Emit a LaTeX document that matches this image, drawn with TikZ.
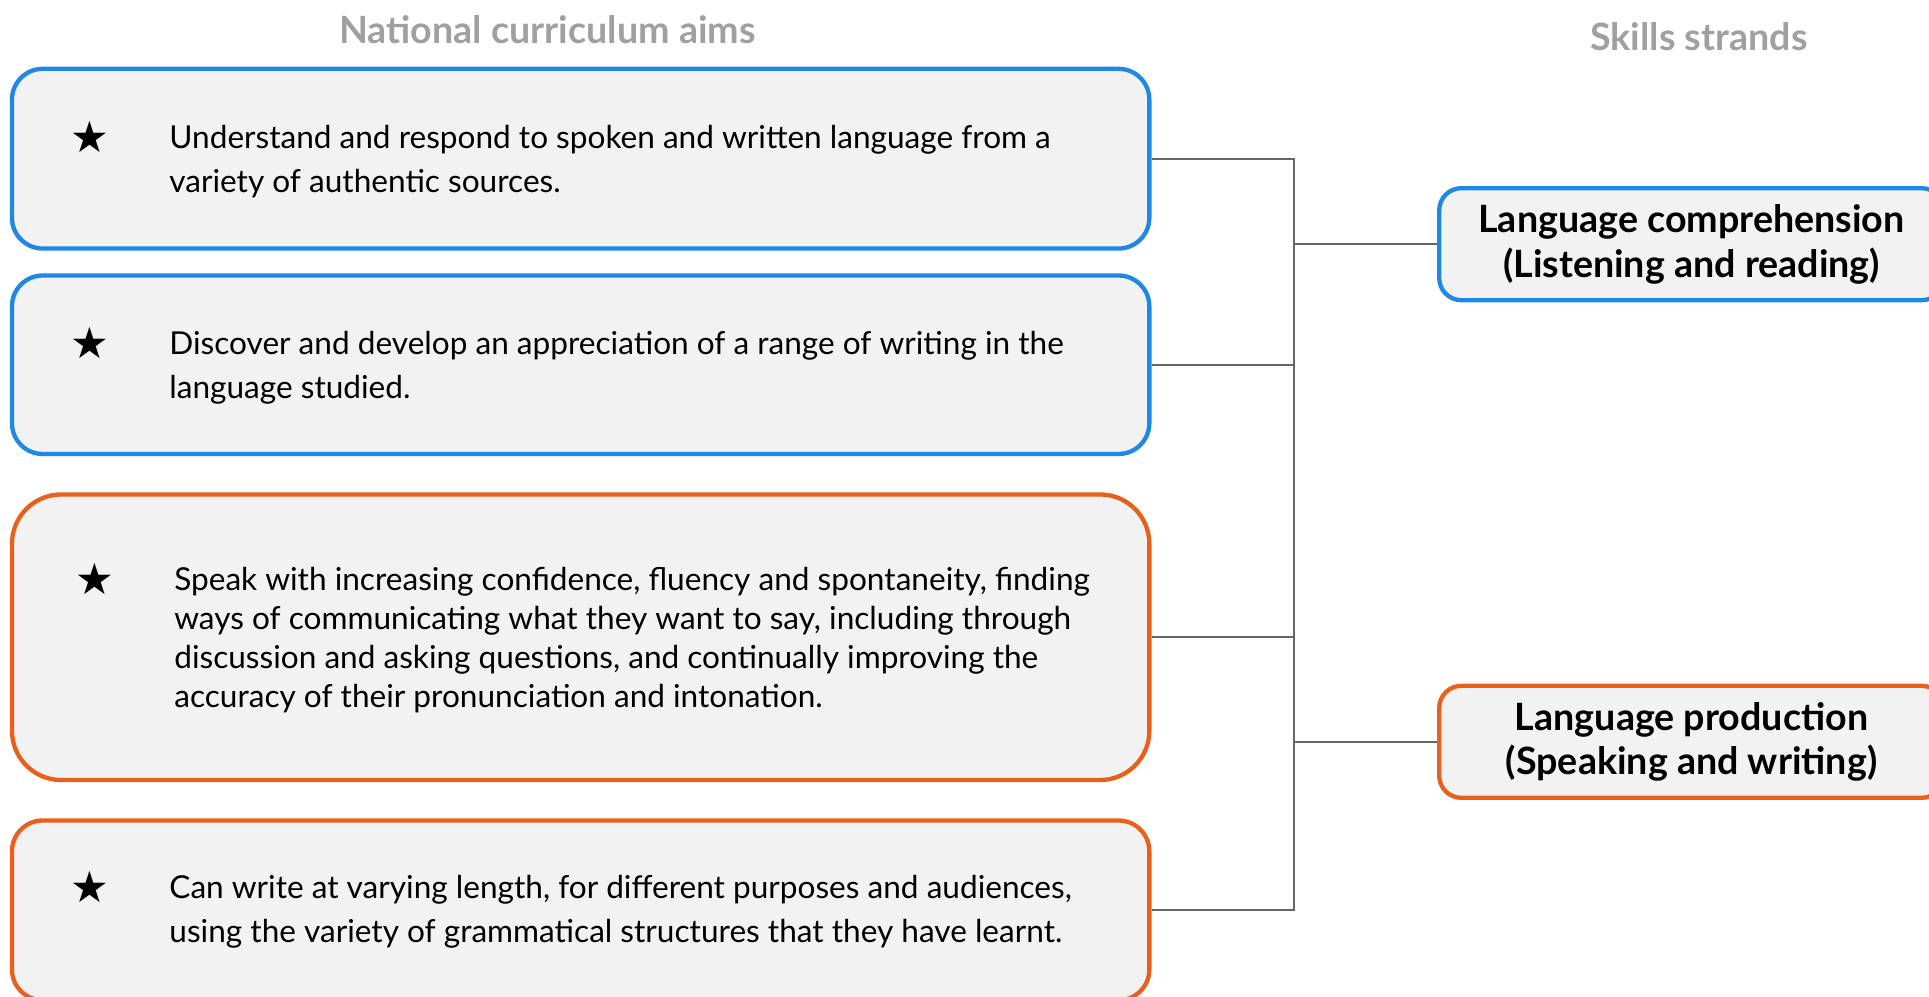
\documentclass[tikz,border=0pt]{standalone}
\usepackage{fontspec}
\setmainfont{Lato}
\newfontfamily\symfont{DejaVu Sans}
\usepackage{tikz}
\usetikzlibrary{positioning}
\definecolor{aimblue}{RGB}{30,136,229}
\definecolor{aimorange}{RGB}{232,96,28}
\definecolor{boxfill}{RGB}{242,242,242}
\definecolor{headgray}{RGB}{160,160,160}
\definecolor{linkgray}{RGB}{102,102,102}
\newcommand{\aimstar}{{\symfont ★}}

\begin{document}
\begin{tikzpicture}[x=0.01cm, y=-0.01cm,
    aimbox/.style={draw, line width=1pt, fill=boxfill, rounded corners=0.25cm, minimum width=9.24cm},
    strandbox/.style={draw, line width=1pt, fill=boxfill, rounded corners=0.18cm, minimum width=4.1cm, minimum height=0.91cm, align=center, font=\fontsize{8.7}{10.3}\selectfont\bfseries},
    aimtext/.style={anchor=west, inner sep=0pt, align=left, font=\fontsize{7.3}{10.2}\selectfont},
    head/.style={text=headgray, font=\fontsize{8.7}{9}\selectfont\bfseries},
    link/.style={draw=linkgray, line width=0.45pt}]
    \useasboundingbox (0,0) rectangle (1568,810);
    \clip (0,0) rectangle (1568,810);
    \node[head] (aimshead) at (445,24) {National curriculum aims};
    \node[head] (strandshead) at (1381,30) {Skills strands};
    % aims
    \node[aimbox, draw=aimblue, minimum height=1.46cm] (aimA) at (472,129) {};
    \node[aimbox, draw=aimblue, minimum height=1.45cm] (aimB) at (472,296.5) {};
    \node[aimbox, draw=aimorange, minimum height=2.32cm, rounded corners=0.4cm] (aimC) at (472,518) {};
    \node[aimbox, draw=aimorange, minimum height=1.46cm] (aimD) at (472,740) {};
    \node[aimtext] (textA) at (137,131) {Understand and respond to spoken and written language from a\\variety of authentic sources.};
    \node[aimtext] (textB) at (137,299) {Discover and develop an appreciation of a range of writing in the\\language studied.};
    \node[aimtext, font=\fontsize{7.3}{9}\selectfont] (textC) at (141,520) {Speak with increasing confidence, fluency and spontaneity, finding\\ways of communicating what they want to say, including through\\discussion and asking questions, and continually improving the\\accuracy of their pronunciation and intonation.};
    \node[aimtext] (textD) at (137,741) {Can write at varying length, for different purposes and audiences,\\using the variety of grammatical structures that they have learnt.};
    \node[inner sep=0pt] (starA) at (73,111) {\aimstar};
    \node[inner sep=0pt] (starB) at (73,279) {\aimstar};
    \node[inner sep=0pt] (starC) at (77,471) {\aimstar};
    \node[inner sep=0pt] (starD) at (73,721) {\aimstar};
    % strands
    \node[strandbox, draw=aimblue] (compr) at (1375,198.5) {Language comprehension\\(Listening and reading)};
    \node[strandbox, draw=aimorange] (prod) at (1375,603) {Language production\\(Speaking and writing)};
    % connectors
    \coordinate (spine) at (1052,0);
    \draw[link] (aimA.east) -| (spine |- aimD.east) -- (aimD.east);
    \draw[link] (aimB.east) -- (aimB.east -| spine);
    \draw[link] (aimC.east) -- (aimC.east -| spine);
    \draw[link] (spine |- compr.west) -- (compr.west);
    \draw[link] (spine |- prod.west) -- (prod.west);
\end{tikzpicture}
\end{document}
